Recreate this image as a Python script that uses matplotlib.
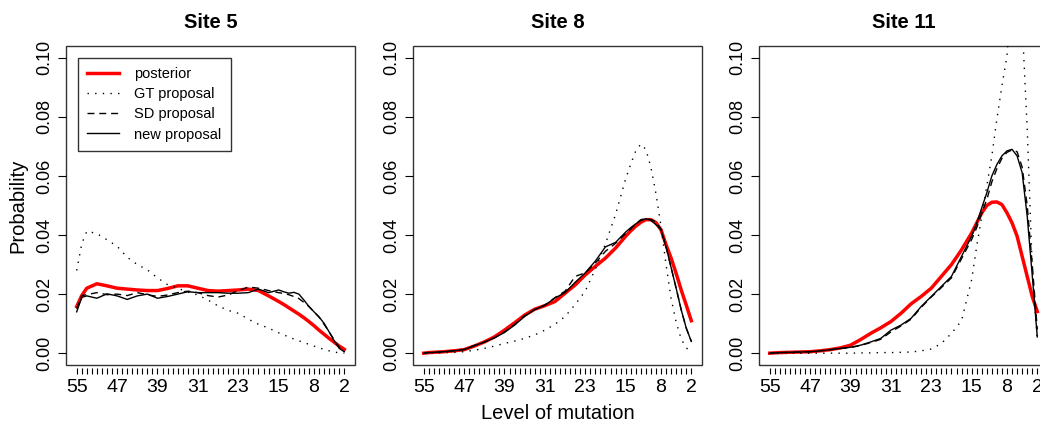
import matplotlib
matplotlib.use("Agg")
import matplotlib.pyplot as plt
from matplotlib.patches import Rectangle

plt.rcParams['font.family'] = ['Liberation Sans', 'DejaVu Sans']

# levels of mutation (x axis runs from 55 down to 2)
levels = [55, 54, 53, 51, 49, 47, 45, 43, 41, 39, 37, 35, 33, 31, 29, 27, 25, 23,
          21, 19, 17, 15, 14, 13, 12, 11, 10, 9, 8, 7, 6, 5, 4, 3, 2]
tick_labels = [55, 47, 39, 31, 23, 15, 8, 2]
sites = ["Site 5", "Site 8", "Site 11"]

# Site 5
s5_post = [0.0158, 0.0195, 0.022, 0.0235, 0.0228, 0.022, 0.0217, 0.0214, 0.0212, 0.0212,
           0.0219, 0.0228, 0.0228, 0.022, 0.0212, 0.021, 0.0212, 0.0214, 0.0217, 0.0212,
           0.0194, 0.0175, 0.0165, 0.0154, 0.0143, 0.0132, 0.012, 0.0107, 0.0093, 0.0078,
           0.0064, 0.005, 0.0037, 0.0024, 0.0013]
s5_gt = [0.028, 0.037, 0.0413, 0.0405, 0.0384, 0.0362, 0.0325, 0.030, 0.0282, 0.0255,
         0.0232, 0.022, 0.0207, 0.0197, 0.018, 0.016, 0.0145, 0.0135, 0.0115, 0.0098,
         0.0085, 0.0069, 0.0062, 0.0055, 0.0048, 0.0042, 0.0036, 0.003, 0.0024, 0.0018,
         0.0013, 0.0008, 0.0004, 0.0001, 0.0]
s5_sd = [0.015, 0.0195, 0.0198, 0.0205, 0.0198, 0.020, 0.0195, 0.0205, 0.0198, 0.0192,
         0.0197, 0.0205, 0.021, 0.0205, 0.0195, 0.019, 0.0197, 0.0212, 0.0224, 0.022,
         0.0212, 0.0205, 0.0202, 0.0198, 0.0192, 0.0185, 0.0172, 0.0158, 0.014, 0.0122,
         0.0098, 0.0072, 0.0045, 0.002, 0.0005]
s5_new = [0.014, 0.0189, 0.0194, 0.0186, 0.0201, 0.0194, 0.0182, 0.0194, 0.020, 0.0186,
          0.0192, 0.020, 0.0208, 0.0205, 0.0205, 0.0205, 0.0203, 0.0203, 0.0205, 0.0217,
          0.0205, 0.0214, 0.0208, 0.0203, 0.0206, 0.020, 0.018, 0.0158, 0.014, 0.0123,
          0.0101, 0.0072, 0.0042, 0.0016, 0.0005]

# Site 8
s8_post = [0.0, 0.0002, 0.0003, 0.0005, 0.0008, 0.0012, 0.0024, 0.0038, 0.0055, 0.0078,
           0.0103, 0.0129, 0.0149, 0.0161, 0.0175, 0.0203, 0.0231, 0.0265, 0.0294, 0.0322,
           0.0356, 0.0396, 0.0414, 0.043, 0.0443, 0.0452, 0.0452, 0.0442, 0.0418, 0.0367,
           0.0322, 0.027, 0.0214, 0.0163, 0.011]
s8_gt = [0.0, 0.0, 0.0001, 0.0002, 0.0003, 0.0005, 0.001, 0.0016, 0.0024, 0.0033,
         0.0041, 0.005, 0.0062, 0.0078, 0.0098, 0.0124, 0.0165, 0.021, 0.0285, 0.037,
         0.047, 0.059, 0.064, 0.0685, 0.0708, 0.069, 0.063, 0.054, 0.043, 0.030,
         0.0185, 0.0105, 0.0048, 0.0018, 0.0005]
s8_sd = [0.0, 0.0002, 0.0003, 0.0005, 0.0008, 0.0013, 0.0026, 0.0037, 0.0052, 0.0072,
         0.0097, 0.0127, 0.0148, 0.0163, 0.0188, 0.021, 0.026, 0.0272, 0.0305, 0.0345,
         0.0372, 0.0405, 0.042, 0.0438, 0.0452, 0.0456, 0.0452, 0.0445, 0.042, 0.036,
         0.029, 0.022, 0.0147, 0.0085, 0.004]
s8_new = [0.0, 0.0002, 0.0003, 0.0005, 0.0008, 0.0012, 0.0025, 0.0038, 0.0052, 0.007,
          0.0095, 0.0125, 0.0148, 0.0162, 0.0187, 0.0205, 0.024, 0.0272, 0.0312, 0.036,
          0.0375, 0.041, 0.0425, 0.0438, 0.0449, 0.0455, 0.045, 0.0435, 0.0418, 0.036,
          0.029, 0.022, 0.0147, 0.0085, 0.004]

# Site 11
s11_post = [0.0, 0.0001, 0.0002, 0.0003, 0.0004, 0.0005, 0.0008, 0.0012, 0.0018, 0.0027,
            0.0046, 0.0067, 0.0086, 0.0107, 0.0135, 0.0167, 0.0192, 0.022, 0.026, 0.030,
            0.035, 0.0407, 0.0441, 0.0475, 0.050, 0.0511, 0.0512, 0.0503, 0.0475, 0.0441,
            0.0396, 0.0328, 0.026, 0.0192, 0.0141]
s11_gt = [0.0, 0.0, 0.0, 0.0, 0.0, 0.0, 0.0, 0.0, 0.0, 0.0,
          0.0001, 0.0001, 0.0002, 0.0002, 0.0003, 0.0004, 0.0008, 0.0014, 0.0033, 0.0067,
          0.011, 0.0249, 0.0362, 0.0464, 0.0566, 0.0668, 0.0793, 0.0906, 0.1007, 0.125,
          0.14, 0.112, 0.076, 0.029, 0.0044]
s11_sd = [0.0, 0.0001, 0.0002, 0.0003, 0.0004, 0.0005, 0.0008, 0.0012, 0.0016, 0.0019,
          0.0026, 0.0036, 0.0047, 0.0072, 0.0092, 0.0115, 0.0155, 0.019, 0.0222, 0.0255,
          0.032, 0.0385, 0.0425, 0.0475, 0.052, 0.058, 0.0625, 0.066, 0.068, 0.0688,
          0.0682, 0.063, 0.05, 0.03, 0.008]
s11_new = [0.0, 0.0001, 0.0002, 0.0003, 0.0004, 0.0005, 0.0008, 0.0012, 0.0016, 0.002,
           0.0027, 0.0038, 0.005, 0.0078, 0.0095, 0.0118, 0.0158, 0.0192, 0.0226, 0.026,
           0.0328, 0.0396, 0.044, 0.0492, 0.0543, 0.060, 0.0639, 0.0668, 0.0685, 0.069,
           0.0668, 0.0611, 0.0464, 0.0263, 0.0055]

posterior = [s5_post, s8_post, s11_post]
gt = [s5_gt, s8_gt, s11_gt]
sd = [s5_sd, s8_sd, s11_sd]
new = [s5_new, s8_new, s11_new]

fig = plt.figure(figsize=(10.4, 4.3), dpi=100)
lefts = [66, 413, 759]

for i in range(3):
    ax = fig.add_axes([lefts[i] / 1040, 65 / 430, 289 / 1040, 319 / 430])
    ax.plot(levels, posterior[i], color="red", lw=2.5, label="posterior")
    ax.plot(levels, gt[i], color="black", lw=1.0, linestyle=(0, (1, 4.5)), label="GT proposal")
    ax.plot(levels, sd[i], color="black", lw=1.0, linestyle=(0, (5, 3.5)), label="SD proposal")
    ax.plot(levels, new[i], color="black", lw=1.0, label="new proposal")

    # R style: x ticks sit a little below the box (set before labels, it resets ticks)
    for sp in ax.spines.values():
        sp.set_visible(False)
    ax.spines['bottom'].set_position(('outward', 2.5))
    ax.add_patch(Rectangle((0, 0), 1, 1, transform=ax.transAxes, fill=False,
                           lw=1.0, edgecolor="#333333", clip_on=False))

    ax.set_xlim(55 + 53 * 0.04, 2 - 53 * 0.04)
    ax.set_ylim(-0.004, 0.104)
    ax.set_xticks(range(2, 56))
    ax.set_xticklabels([str(v) if v in tick_labels else "" for v in range(2, 56)])
    ax.set_yticks([0, 0.02, 0.04, 0.06, 0.08, 0.10])
    ax.set_yticklabels(["0.00", "0.02", "0.04", "0.06", "0.08", "0.10"],
                       rotation=90, va="center")
    ax.tick_params(axis="x", direction="out", length=4.3, width=0.8, pad=3, labelsize=14)
    ax.tick_params(axis="y", direction="out", length=5.5, width=0.8, pad=4, labelsize=13)

    ax.set_title(sites[i], fontsize=14.5, fontweight="bold", pad=13)
    if i == 0:
        ax.set_ylabel("Probability", fontsize=14.5, labelpad=6)
        ax.legend(loc="upper left", fontsize=10.5, frameon=True, fancybox=False,
                  edgecolor="black", handlelength=2.2, borderaxespad=0.8,
                  labelspacing=0.42, handletextpad=1.0, borderpad=0.65)
    if i == 1:
        ax.set_xlabel("Level of mutation", fontsize=14.5, labelpad=6)

fig.savefig("out.png", dpi=100)
